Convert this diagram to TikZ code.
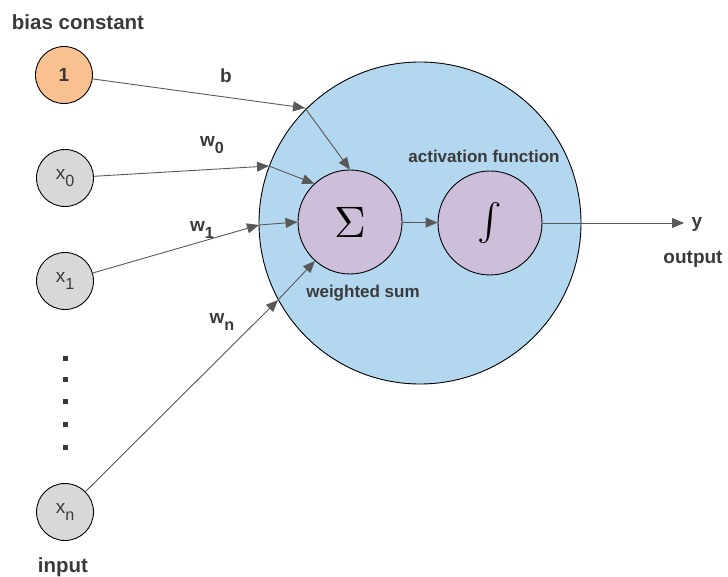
\documentclass[tikz,border=0pt]{standalone}
\usepackage{fontspec}
\setmainfont{Liberation Sans}
\usetikzlibrary{arrows.meta}
\definecolor{txt}{HTML}{3A3A3A}
\definecolor{edge}{HTML}{595959}
\definecolor{biasfill}{HTML}{F9C18F}
\definecolor{infill}{HTML}{D8D8D8}
\definecolor{neufill}{HTML}{B3D7EF}
\definecolor{opfill}{HTML}{CDBFD9}
\newcommand\lsub[1]{\raisebox{-0.35em}{\scalebox{0.85}{#1}}}
\newcommand\fs[1]{\fontsize{#1}{#1}\selectfont}
\begin{document}
\begin{tikzpicture}[x=1pt,y=1pt,
  inp/.style={circle,draw=black,line width=0.9pt,minimum size=57pt,inner sep=0pt,text=txt,font=\fs{19}},
  op/.style={circle,draw=black,line width=0.9pt,fill=opfill,minimum size=104pt,inner sep=0pt},
  lbl/.style={text=txt,font=\bfseries\fs{17},inner sep=0pt},
  biglbl/.style={text=txt,font=\bfseries\fs{20.5},inner sep=0pt},
  wlbl/.style={text=txt,font=\bfseries\fs{19},inner sep=0pt},
  conn/.style={draw=edge,line width=0.9pt,-{Triangle[length=12pt,width=10pt]}},
  dotsq/.style={fill=txt,minimum size=5pt,inner sep=0pt,draw=none}]
\useasboundingbox (0,0) rectangle (728,-577);
% big neuron circle
\node[circle,draw=black,line width=0.9pt,fill=neufill,minimum size=322pt,inner sep=0pt] (neu) at (420,-223) {};
% inputs
\node[inp,fill=biasfill,font=\bfseries\fs{19}] (b1) at (64,-75) {1};
\node[inp,fill=infill] (x0) at (65,-178) {x\lsub{0}};
\node[inp,fill=infill] (x1) at (65,-281) {x\lsub{1}};
\node[inp,fill=infill] (xn) at (65,-512) {x\lsub{n}};
\foreach \yy/\nm in {358/d1,379/d2,401/d3,424/d4,447/d5}
  \node[dotsq] (\nm) at (65,-\yy) {};
\node[biglbl] (tbias) at (78,-22) {bias constant};
\node[biglbl] (tinput) at (63,-567) {input};
% operations
\node[op] (sig) at (350,-222) {\scalebox{4.4}{$\Sigma$}};
\node[op] (int) at (490,-223) {\scalebox{3.7}{$\int$}};
\node[lbl] (tact) at (484,-156) {activation function};
\node[lbl] (twsum) at (363,-293) {weighted sum};
% boundary points
\coordinate (pb) at (305,-108);
\coordinate (p0) at (269,-166);
\coordinate (p1) at (259,-225);
\coordinate (pn) at (278,-300);
\coordinate (yout) at (684,-223);
% connectors
\draw[conn] (b1) -- (pb);
\draw[conn] (pb) -- (sig.north);
\draw[conn] (x0) -- (p0);
\draw[conn] (p0) -- (sig.133);
\draw[conn] (x1) -- (p1);
\draw[conn] (p1) -- (sig.west);
\draw[conn] (xn) -- (pn);
\draw[conn] (pn) -- (sig.228);
\draw[conn] (sig) -- (int);
\draw[conn] (int) -- (yout);
% weight labels
\node[wlbl] (lb) at (226,-76) {b};
\node[wlbl] (lw0) at (212,-145) {w\lsub{0}};
\node[wlbl] (lw1) at (202,-230) {w\lsub{1}};
\node[wlbl] (lwn) at (222,-322) {w\lsub{n}};
\node[wlbl] (ty) at (697,-224) {y};
\node[wlbl] (tout) at (693,-259) {output};
\end{tikzpicture}
\end{document}
